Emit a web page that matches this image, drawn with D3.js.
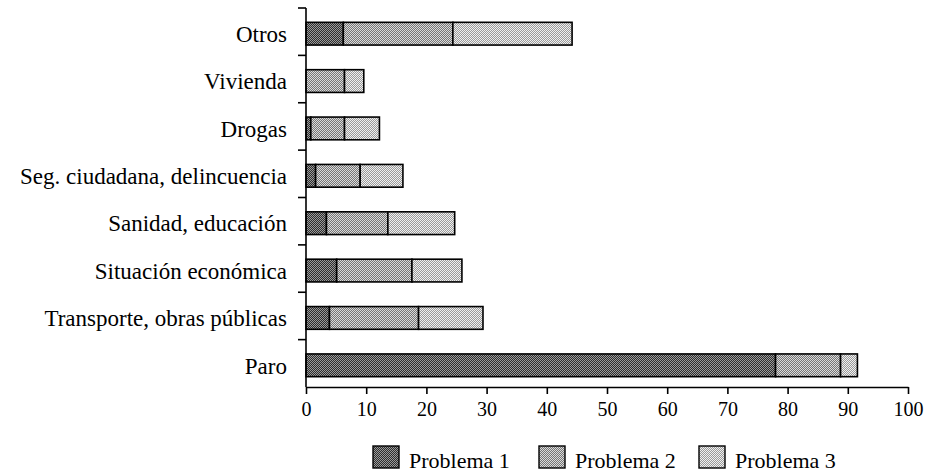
<!DOCTYPE html>
<html>
<head>
<meta charset="utf-8">
<script src="https://cdn.jsdelivr.net/npm/d3@7"></script>
</head>
<body style="margin:0">
<script>
// Data
var categories = ["Otros", "Vivienda", "Drogas", "Seg. ciudadana, delincuencia",
  "Sanidad, educación", "Situación económica", "Transporte, obras públicas", "Paro"];
var problema1 = [6.2, 0, 0.8, 1.6, 3.4, 5.1, 3.9, 78.0];
var problema2 = [18.2, 6.4, 5.6, 7.4, 10.2, 12.5, 14.8, 10.8];
var problema3 = [19.8, 3.2, 5.8, 7.1, 11.1, 8.3, 10.7, 2.8];
var seriesNames = ["Problema 1", "Problema 2", "Problema 3"];
var xTicks = [0, 10, 20, 30, 40, 50, 60, 70, 80, 90, 100];

var svgWidth = 949, svgHeight = 472;
var margin = { top: 8, left: 306, right: 41, bottom: 85 };
var width = svgWidth - margin.left - margin.right;
var height = svgHeight - margin.top - margin.bottom;

var svg = d3.select("body").append("svg")
    .attr("width", svgWidth)
    .attr("height", svgHeight);

// halftone-like fills
var fills = [["#2e2e2e", "#9a9a9a"], ["#767676", "#dadada"], ["#9a9a9a", "#f0f0f0"]];
var defs = svg.append("defs");
fills.forEach(function(f, i) {
    var p = defs.append("pattern")
        .attr("id", "pat" + i)
        .attr("width", 2).attr("height", 2)
        .attr("patternUnits", "userSpaceOnUse");
    p.append("rect").attr("width", 2).attr("height", 2).attr("fill", f[0]);
    p.append("rect").attr("width", 1).attr("height", 1).attr("fill", f[1]);
    p.append("rect").attr("x", 1).attr("y", 1).attr("width", 1).attr("height", 1).attr("fill", f[1]);
});

var chartGroup = svg.append("g")
    .attr("transform", `translate(${margin.left}, ${margin.top})`);

var x = d3.scaleLinear().domain([0, 100]).range([0, width]);
var y = d3.scaleBand().domain(categories).range([0, height]).padding(0);

var rows = categories.map(function(c, i) {
    return { cat: c, "Problema 1": problema1[i], "Problema 2": problema2[i], "Problema 3": problema3[i] };
});
var stacked = d3.stack().keys(seriesNames)(rows);

var barH = y.bandwidth() * 0.48;

chartGroup.selectAll("g.series")
    .data(stacked)
    .enter().append("g")
    .attr("class", "series")
    .attr("fill", (d, i) => `url(#pat${i})`)
    .selectAll("rect")
    .data(d => d.filter(s => s[1] - s[0] > 0))
    .enter().append("rect")
    .attr("x", d => x(d[0]))
    .attr("width", d => x(d[1]) - x(d[0]))
    .attr("y", d => y(d.data.cat) + (y.bandwidth() - barH) / 2 + 2)
    .attr("height", barH)
    .attr("stroke", "#000")
    .attr("stroke-width", 1.6);

// x axis
var xAxis = chartGroup.append("g")
    .attr("transform", `translate(0, ${height})`)
    .call(d3.axisBottom(x).tickValues(xTicks).tickSize(7).tickSizeOuter(0).tickPadding(8));
xAxis.attr("font-family", "Liberation Serif").attr("font-size", 20);
xAxis.selectAll("text").style("font-family", "'Liberation Serif'").style("font-size", "20px");
xAxis.selectAll("line, path").attr("stroke", "#000").attr("stroke-width", 1.6);

// y axis labels
var yAxis = chartGroup.append("g")
    .call(d3.axisLeft(y).tickSize(0).tickPadding(19));
yAxis.attr("font-family", "Liberation Serif").attr("font-size", 23);
yAxis.select(".domain").remove();
yAxis.selectAll("text").style("font-family", "'Liberation Serif'").style("font-size", "23px")
    .attr("dy", "0.62em").attr("y", -4);

// y axis line and boundary ticks
chartGroup.append("line")
    .attr("x1", 0).attr("x2", 0).attr("y1", 0).attr("y2", height)
    .attr("stroke", "#000").attr("stroke-width", 1.6);
chartGroup.selectAll("line.btick")
    .data(categories)
    .enter().append("line")
    .attr("class", "btick")
    .attr("x1", -8).attr("x2", 0)
    .attr("y1", d => y(d)).attr("y2", d => y(d))
    .attr("stroke", "#000").attr("stroke-width", 1.6);

// legend
var legendX = [373, 539, 699];
var legend = svg.append("g");
seriesNames.forEach(function(name, i) {
    legend.append("rect")
        .attr("x", legendX[i]).attr("y", 446)
        .attr("width", 26).attr("height", 22)
        .attr("fill", `url(#pat${i})`)
        .attr("stroke", "#000").attr("stroke-width", 1.4);
    legend.append("text")
        .attr("x", legendX[i] + 36).attr("y", 468)
        .style("font-family", "'Liberation Serif'")
        .style("font-size", "22px")
        .text(name);
});
</script>
</body>
</html>
